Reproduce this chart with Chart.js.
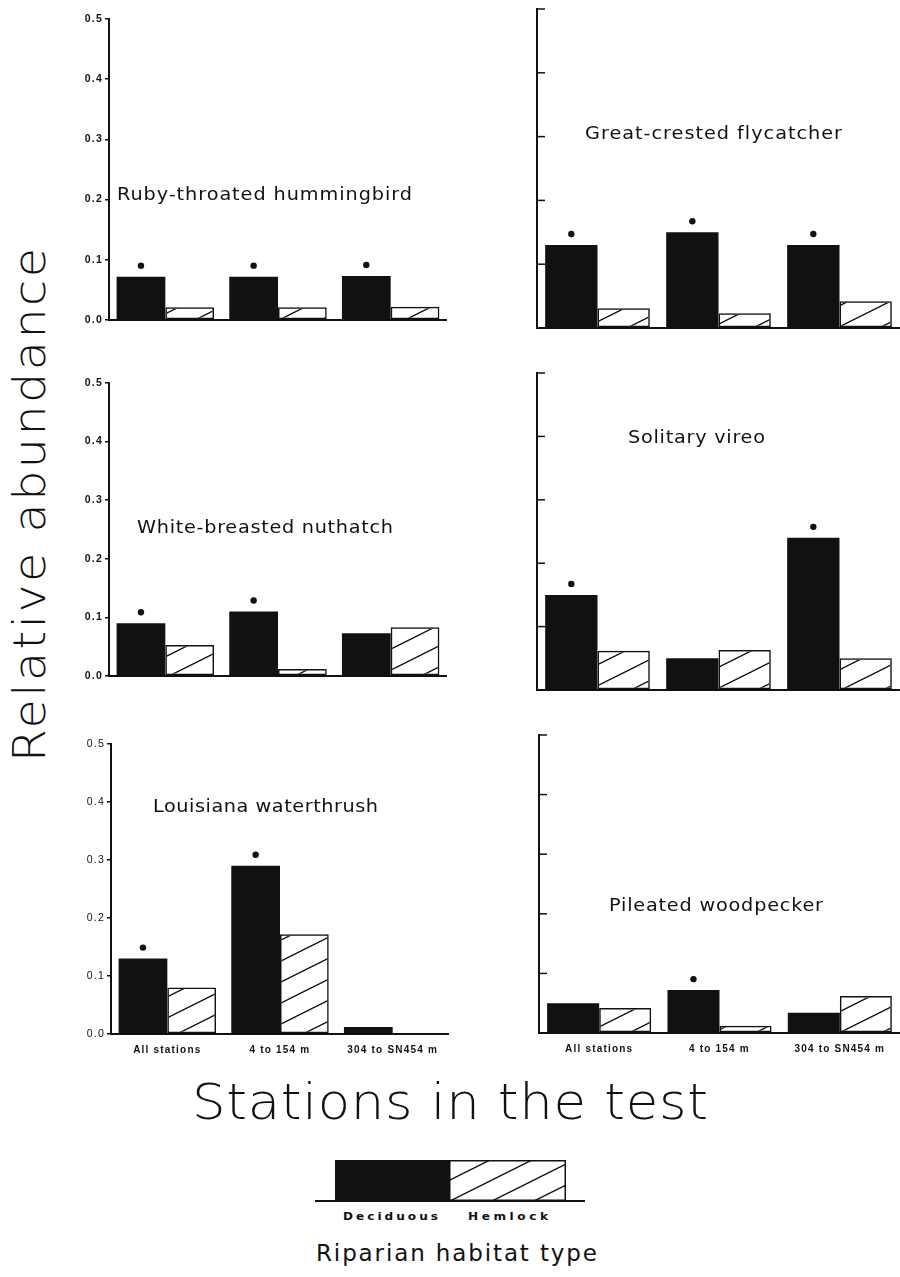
<!DOCTYPE html>
<html>
<head>
<meta charset="utf-8">
<script src="https://cdn.jsdelivr.net/npm/chart.js@4.4.1/dist/chart.umd.min.js"></script>
<style>
  html, body { margin: 0; padding: 0; background: #fff; }
  #page { position: relative; width: 900px; height: 1277px; overflow: hidden; background: #fff; }
  canvas { position: absolute; }
  .txt { position: absolute; white-space: nowrap; color: #111; font-family: 'DejaVu Sans'; line-height: 1; }
</style>
</head>
<body>
<div id="page"></div>
<script>
// data
const categories = ['All stations', '4 to 154 m', '304 to SN454 m'];
const species = ['Ruby-throated hummingbird', 'Great-crested flycatcher', 'White-breasted nuthatch',
                 'Solitary vireo', 'Louisiana waterthrush', 'Pileated woodpecker'];
const seriesNames = ['Deciduous', 'Hemlock'];
const deciduous = [
  [0.072, 0.072, 0.073],
  [0.13, 0.15, 0.13],
  [0.09, 0.11, 0.073],
  [0.15, 0.05, 0.24],
  [0.13, 0.29, 0.012],
  [0.05, 0.072, 0.034]
];
const hemlock = [
  [0.021, 0.021, 0.022],
  [0.031, 0.023, 0.042],
  [0.053, 0.012, 0.083],
  [0.062, 0.063, 0.05],
  [0.08, 0.172, 0],
  [0.042, 0.012, 0.062]
];
// dot above the deciduous bar = significant difference
const marked = [
  [1, 1, 1],
  [1, 1, 1],
  [1, 1, 0],
  [1, 0, 1],
  [1, 1, 0],
  [0, 1, 0]
];
const yTicks = [0, 0.1, 0.2, 0.3, 0.4, 0.5];
const yTickLabels = ['0.0', '0.1', '0.2', '0.3', '0.4', '0.5'];

// layout of the six panels (chart area in page pixels) and their titles
const panels = [
  { area: [109, 19, 447, 320],  side: 'left',  xlab: false, tickWeight: 'bold',   title: [117, 188, 295] },
  { area: [537, 9, 900, 328],   side: 'right', xlab: false, title: [585, 127, 257] },
  { area: [109, 383, 447, 676], side: 'left',  xlab: false, tickWeight: 'bold',   title: [137, 521, 256] },
  { area: [537, 373, 900, 690], side: 'right', xlab: false, title: [628, 431, 137] },
  { area: [111, 744, 449, 1034], side: 'left', xlab: true,  tickWeight: 'normal', title: [153, 800, 225] },
  { area: [539, 735, 900, 1033], side: 'right', xlab: true, title: [609, 899, 214] }
];

const page = document.getElementById('page');

function makeHatch(ctx) {
  const c = document.createElement('canvas');
  c.width = 42; c.height = 21;
  const g = c.getContext('2d');
  g.strokeStyle = '#111';
  g.lineWidth = 1.4;
  for (let j = -1; j <= 1; j++) {
    g.beginPath();
    g.moveTo(-10, 21 + 5 + 21 * j);
    g.lineTo(52, 21 - 26 + 21 * j);
    g.stroke();
  }
  return ctx.createPattern(c, 'repeat');
}

// text placed by cap top; glyphs widened a little, the rest of the width by letter spacing
function addText(str, x, capTop, fs, width, css, stretch) {
  const el = document.createElement('div');
  el.className = 'txt';
  el.textContent = str;
  el.style.fontSize = fs + 'px';
  Object.assign(el.style, css || {});
  el.style.left = x + 'px';
  el.style.top = (capTop - 0.117 * fs) + 'px';
  page.appendChild(el);
  const sx = stretch || 1;
  const w0 = el.getBoundingClientRect().width * sx;
  el.style.letterSpacing = ((width - w0) / (str.length - 1) / sx) + 'px';
  el.style.transformOrigin = '0 0';
  el.style.transform = 'scaleX(' + sx + ')';
  return el;
}

panels.forEach((p, k) => {
  const [l, t, r, b] = p.area;
  const yW = p.side === 'left' ? 44 : 4;
  const xH = p.xlab ? 22 : 8;
  const padL = 4, padT = 10, padB = 2;
  const cx = l - yW - padL, cy = t - padT;
  const w = r - cx, h = b - cy + xH + padB;

  const cv = document.createElement('canvas');
  cv.width = w; cv.height = h;
  cv.style.left = cx + 'px'; cv.style.top = cy + 'px';
  page.appendChild(cv);
  const hatch = makeHatch(cv.getContext('2d'));

  const extras = {
    id: 'extras' + k,
    beforeDraw(chart) {
      chart.ctx.letterSpacing = '1.2px';
    },
    afterDatasetsDraw(chart) {
      const ctx = chart.ctx;
      const meta = chart.getDatasetMeta(0);
      ctx.save();
      ctx.fillStyle = '#111';
      meta.data.forEach((bar, i) => {
        if (!marked[k][i]) return;
        ctx.beginPath();
        ctx.arc(bar.x, bar.y - 11, 3.2, 0, Math.PI * 2);
        ctx.fill();
      });
      ctx.restore();
    },
    afterDraw(chart) {
      if (p.side !== 'right') return;
      const ctx = chart.ctx, y = chart.scales.y, x0 = chart.chartArea.left;
      ctx.save();
      ctx.strokeStyle = '#111';
      ctx.lineWidth = 1.5;
      yTicks.forEach(v => {
        if (v === 0) return;
        const py = y.getPixelForValue(v);
        ctx.beginPath();
        ctx.moveTo(x0, py);
        ctx.lineTo(x0 + 8, py);
        ctx.stroke();
      });
      ctx.restore();
    }
  };

  new Chart(cv, {
    type: 'bar',
    data: {
      labels: categories,
      datasets: [
        { label: seriesNames[0], data: deciduous[k], backgroundColor: '#111', borderWidth: 0 },
        { label: seriesNames[1], data: hemlock[k], backgroundColor: hatch, borderColor: '#111',
          borderWidth: 1.5, borderSkipped: false }
      ]
    },
    options: {
      responsive: false,
      animation: false,
      devicePixelRatio: 1,
      layout: { padding: { left: padL, top: padT, right: 0, bottom: padB } },
      datasets: { bar: { categoryPercentage: 0.865, barPercentage: 1 } },
      plugins: { legend: { display: false }, tooltip: { enabled: false } },
      scales: {
        x: {
          grid: { display: false },
          border: { color: '#111', width: 2 },
          ticks: {
            display: p.xlab, color: '#111', padding: 2, maxRotation: 0, autoSkip: false,
            font: { family: 'Liberation Sans', weight: 'bold', size: 10 }
          },
          afterFit: s => { s.height = xH; }
        },
        y: {
          min: 0, max: 0.5,
          afterBuildTicks: s => { s.ticks = yTicks.map(v => ({ value: v })); },
          ticks: {
            display: p.side === 'left', color: '#111', padding: 2,
            callback: (v, i) => yTickLabels[i],
            font: { family: 'Liberation Sans', weight: p.tickWeight || 'normal', size: 10.5 }
          },
          grid: { drawOnChartArea: false, drawTicks: p.side === 'left', tickLength: 4, color: '#111', lineWidth: 1.5 },
          border: { color: '#111', width: 2 },
          afterFit: s => { s.width = yW; }
        }
      }
    },
    plugins: [extras]
  });

  const [tx, ty, tw] = p.title;
  addText(species[k], tx, ty, 17.5, tw, null, 1.1);
});

// legend
const lg = document.createElement('canvas');
lg.width = 300; lg.height = 60;
lg.style.left = '300px'; lg.style.top = '1150px';
page.appendChild(lg);
const g = lg.getContext('2d');
g.fillStyle = '#111';
g.fillRect(35, 10, 114, 41);
g.fillStyle = makeHatch(g);
g.fillRect(149, 10, 117, 41);
g.strokeStyle = '#111';
g.lineWidth = 1.5;
g.strokeRect(149.75, 10.75, 115.5, 39.5);
g.lineWidth = 2;
g.beginPath(); g.moveTo(15, 51); g.lineTo(285, 51); g.stroke();

addText(seriesNames[0], 343, 1212, 10.5, 95, { fontWeight: 'bold' }, 1.15);
addText(seriesNames[1], 468, 1212, 10.5, 80, { fontWeight: 'bold' }, 1.15);
addText('Riparian habitat type', 316, 1245, 23, 281);

// axis titles
addText('Stations in the test', 192, 1084, 49, 516, { fontWeight: '200' }, 1.08);
const ya = addText('Relative abundance', 0, 0, 44, 514, { fontWeight: '200' }, 1.08);
ya.style.left = (13 - 0.117 * 44) + 'px';
ya.style.top = '762px';
ya.style.transform = 'rotate(-90deg) scaleX(1.08)';
</script>
</body>
</html>
